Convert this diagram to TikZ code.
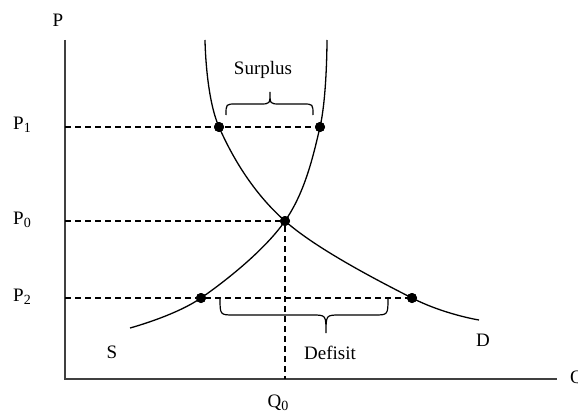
\documentclass[tikz,border=0pt]{standalone}
\usepackage{fontspec}
\setmainfont{Liberation Serif}
\begin{document}
\begin{tikzpicture}[x=1pt,y=-1pt,
  lbl/.style={inner sep=0pt, font=\fontsize{19}{21}\selectfont},
  axis/.style={line width=1.6pt, draw=black!75},
  curve/.style={line width=1.3pt},
  guide/.style={line width=1.3pt, dash pattern=on 6pt off 4pt},
  dot/.style={circle, fill=black, inner sep=0pt, minimum size=10pt},
  brc/.style={line width=1.2pt}]
\newcommand{\sub}[1]{\raisebox{-0.3ex}{\fontsize{14}{14}\selectfont #1}}
\useasboundingbox (0,0) rectangle (578,412);
% axes
\coordinate (O) at (65,379);
\coordinate (Ptop) at (65,40);
\coordinate (Qend) at (557,379);
\draw[axis] (Ptop) -- (O) -- (Qend);
\node[lbl] (Plab) at (58,20) {P};
\node[lbl, anchor=west] (Qlab) at (570,379) {Q};
% points
\node[dot] (a1) at (219,127) {};
\node[dot] (b1) at (320,127) {};
\node[dot] (e) at (285,221) {};
\node[dot] (a2) at (201,298) {};
\node[dot] (b2) at (412,298) {};
\coordinate (y1) at (65,127);
\coordinate (y0) at (65,221);
\coordinate (y2) at (65,298);
\coordinate (x0) at (285,379);
% guides
\draw[guide] (y1) -- (b1);
\draw[guide] (y0) -- (e);
\draw[guide] (y2) -- (b2);
\draw[guide] (e) -- (x0);
% curves
\draw[curve] plot[smooth, tension=0.6] coordinates {(130,328) (201,298) (285,221) (320,127) (327,40)};
\draw[curve] plot[smooth, tension=0.6] coordinates {(205,40) (219,127) (285,221) (412,298) (479,320)};
% redraw dots on top
\foreach \n in {a1,b1,e,a2,b2} \fill (\n) circle (5pt);
% labels
\node[lbl] (P1) at (22,125) {P\sub{1}};
\node[lbl] (P0) at (22,220) {P\sub{0}};
\node[lbl] (P2) at (22,297) {P\sub{2}};
\node[lbl] (Q0) at (278,403) {Q\sub{0}};
\node[lbl] (S) at (112,352) {S};
\node[lbl] (D) at (483,340) {D};
\node[lbl] (surplus) at (263,70) {Surplus};
\node[lbl] (defisit) at (330,353) {Defisit};
% braces
\draw[brc] (226,115) .. controls (226,104) .. (236,104) -- (260,104) .. controls (270,104) .. (270,92) .. controls (270,104) .. (280,104) -- (303,104) .. controls (313,104) .. (313,115);
\draw[brc] (220,298) .. controls (220,315) .. (234,315) -- (312,315) .. controls (326,315) .. (326,333) .. controls (326,315) .. (340,315) -- (374,315) .. controls (388,315) .. (388,298);
\end{tikzpicture}
\end{document}
